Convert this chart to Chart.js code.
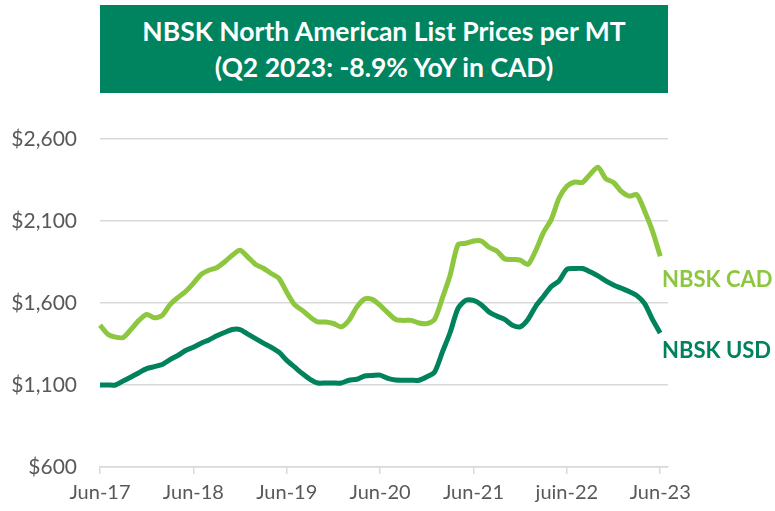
<!DOCTYPE html>
<html>
<head>
<meta charset="utf-8">
<script src="https://cdn.jsdelivr.net/npm/chart.js@4/dist/chart.umd.min.js"></script>
<style>
  html, body { margin: 0; padding: 0; background: #fff; }
  #wrap { position: relative; width: 775px; height: 511px; }
  #title {
    position: absolute; left: 100px; top: 5px; width: 568px; height: 88px;
    background: #00845f; color: #fff; font-family: Lato, sans-serif; font-weight: bold;
    font-size: 26.5px; line-height: 36px; text-align: center;
    display: flex; flex-direction: column; justify-content: center;
  }
</style>
</head>
<body>
<div id="wrap">
  <canvas id="nbskChart" width="775" height="511"></canvas>
  <div id="title"><div>NBSK North American List Prices per MT</div><div>(Q2 2023: -8.9% YoY in CAD)</div></div>
</div>
<script>
// monthly, Jun-17 .. Jun-23
const tickLabels = ['Jun-17', 'Jun-18', 'Jun-19', 'Jun-20', 'Jun-21', 'juin-22', 'Jun-23'];
const seriesNames = ['NBSK CAD', 'NBSK USD'];

const cadValues = [
    1465, 1410, 1392, 1390, 1440, 1494, 1530, 1510, 1525, 1590, 1633, 1670,
    1720, 1775, 1800, 1815, 1850, 1891, 1922, 1880, 1835, 1812, 1780, 1750,
    1665, 1590, 1555, 1515, 1485, 1484, 1475, 1455, 1495, 1575, 1625, 1622,
    1585, 1540, 1500, 1494, 1494, 1478, 1474, 1500, 1630, 1770, 1955, 1964,
    1978, 1978, 1940, 1917, 1870, 1865, 1862, 1835, 1920, 2030, 2110, 2240,
    2312, 2338, 2335, 2385, 2428, 2358, 2335, 2280, 2252, 2260, 2160, 2040,
    1885
];

const usdValues = [
    1100, 1100, 1100, 1125, 1149, 1175, 1200, 1212, 1225, 1255, 1280, 1310,
    1330, 1355, 1375, 1400, 1420, 1438, 1438, 1410, 1383, 1355, 1330, 1300,
    1250, 1210, 1170, 1135, 1112, 1112, 1112, 1112, 1129, 1135, 1155, 1158,
    1160, 1140, 1130, 1129, 1129, 1129, 1150, 1179, 1300, 1420, 1566, 1616,
    1616, 1590, 1545, 1520, 1500, 1465, 1455, 1500, 1580, 1640, 1700, 1735,
    1805, 1810, 1810, 1790, 1765, 1735, 1710, 1690, 1670, 1645, 1596, 1500,
    1417
];

const yTicks = [600, 1100, 1600, 2100, 2600];

const colors = {
    cad: '#8dc63f',
    usd: '#00825c',
    grid: '#d9d9d9',
    text: '#595959'
};

// one slot per month plus one trailing slot so the axis runs a bit past Jun-23
const months = [];
for (let i = 0; i <= cadValues.length; i++) months.push(i);

const endLabels = {
    id: 'endLabels',
    afterDatasetsDraw(chart) {
        const ctx = chart.ctx;
        const offsets = [24, 18];
        ctx.save();
        ctx.font = 'bold 22px Lato, sans-serif';
        ctx.textAlign = 'left';
        ctx.textBaseline = 'middle';
        chart.data.datasets.forEach((ds, i) => {
            const pts = chart.getDatasetMeta(i).data;
            const last = pts[pts.length - 1];
            ctx.fillStyle = ds.borderColor;
            ctx.fillText(ds.label, 662, last.y + offsets[i]);
        });
        ctx.restore();
    }
};

new Chart(document.getElementById('nbskChart'), {
    type: 'line',
    data: {
        labels: months,
        datasets: [{
            label: seriesNames[0],
            data: cadValues,
            borderColor: colors.cad,
            borderWidth: 5,
            pointRadius: 0,
            tension: 0.25,
            fill: false
        }, {
            label: seriesNames[1],
            data: usdValues,
            borderColor: colors.usd,
            borderWidth: 5,
            pointRadius: 0,
            tension: 0.25,
            fill: false
        }]
    },
    options: {
        responsive: false,
        animation: false,
        layout: { padding: { top: 139, right: 107, bottom: 0, left: 0 } },
        plugins: {
            legend: { display: false },
            tooltip: { enabled: false }
        },
        scales: {
            x: {
                type: 'category',
                offset: false,
                afterFit: function (scale) { scale.height = 44; },
                grid: {
                    drawOnChartArea: false,
                    drawTicks: true,
                    tickLength: 7,
                    lineWidth: 1.5,
                    color: function (c) { return (c.index % 12 === 0 && c.index < months.length - 1) ? colors.grid : 'transparent'; }
                },
                border: { color: colors.grid, width: 1.5 },
                ticks: {
                    autoSkip: false,
                    maxRotation: 0,
                    padding: 7,
                    color: colors.text,
                    font: { family: 'Lato', size: 20 },
                    callback: function (value, index) {
                        return index % 12 === 0 ? (tickLabels[index / 12] || '') : '';
                    }
                }
            },
            y: {
                min: 600,
                max: 2600,
                afterFit: function (scale) { scale.width = 100; },
                afterBuildTicks: function (scale) { scale.ticks = yTicks.map(v => ({ value: v })); },
                grid: { color: colors.grid, lineWidth: 1.5, drawTicks: false },
                border: { display: false },
                ticks: {
                    padding: 23,
                    color: colors.text,
                    font: { family: 'Lato', size: 21 },
                    callback: function (value) { return '$' + value.toLocaleString('en-US'); }
                }
            }
        }
    },
    plugins: [endLabels]
});
</script>
</body>
</html>
